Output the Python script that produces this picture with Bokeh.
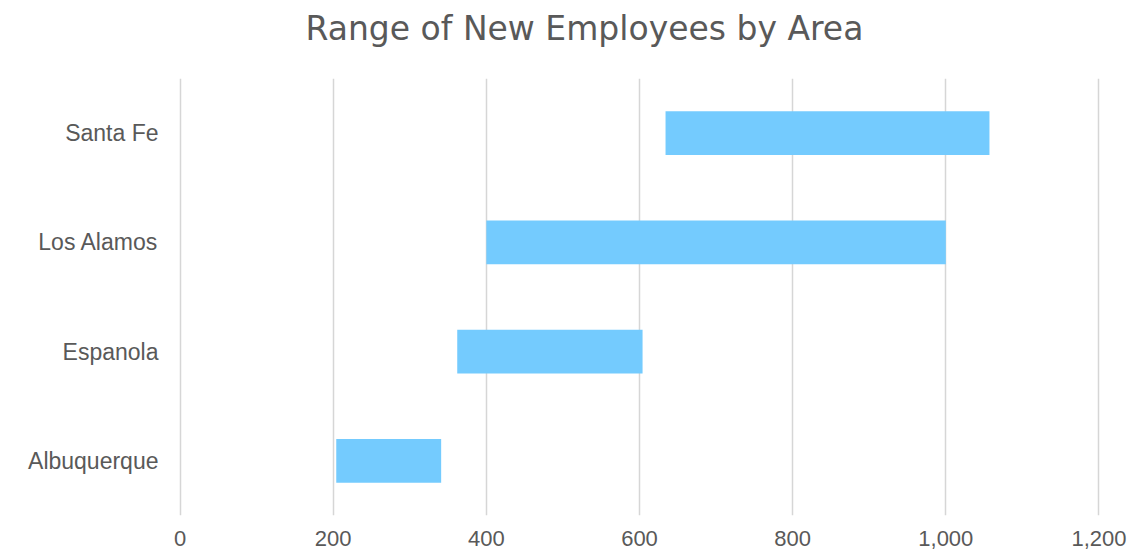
from bokeh.plotting import figure
from bokeh.models import FactorRange, Range1d, FixedTicker, NumeralTickFormatter, ColumnDataSource, Title
from bokeh.embed import file_html
from bokeh.resources import INLINE

categories = ["Albuquerque", "Espanola", "Los Alamos", "Santa Fe"]
low_values = [204, 362, 400, 634]
high_values = [341, 604, 1000, 1057]
x_ticks = [0, 200, 400, 600, 800, 1000, 1200]
title_text = "Range of New Employees by Area"

src = ColumnDataSource(dict(cat=categories, low=low_values, high=high_values))

W, H = 1148, 555
p = figure(width=W, height=H, output_backend="svg", toolbar_location=None, title=None,
           y_range=FactorRange(factors=categories, range_padding=0),
           x_range=Range1d(-2, 1202),
           min_border_left=178, min_border_right=48,
           min_border_top=78, min_border_bottom=40)
p.background_fill_color = "white"
p.border_fill_color = "white"
p.outline_line_color = None

spacer = Title(text=" ", text_font_size="10px", standoff=10, text_color="white")
main_title = Title(text=title_text, align="left", offset=127, vertical_align="top",
                   standoff=12, text_font="DejaVu Sans", text_font_size="33px",
                   text_font_style="normal", text_color="#595959")
p.add_layout(spacer, "above")
p.add_layout(main_title, "above")

p.hbar(y="cat", left="low", right="high", height=0.4, source=src,
       fill_color="#74CBFE", line_color=None)

p.xaxis.ticker = FixedTicker(ticks=x_ticks)
p.xaxis.formatter = NumeralTickFormatter(format="0,0")
for ax in (p.xaxis, p.yaxis):
    ax.axis_line_color = None
    ax.major_tick_line_color = None
    ax.minor_tick_line_color = None
    ax.major_tick_out = 0
    ax.major_tick_in = 0
    ax.major_label_text_color = "#595959"
    ax.major_label_text_font = "Liberation Sans"
p.xaxis.major_label_text_font_size = "22px"
p.xaxis.major_label_standoff = 15
p.yaxis.major_label_text_font_size = "23px"
p.yaxis.major_label_standoff = 20

p.xgrid.ticker = FixedTicker(ticks=x_ticks)
p.xgrid.grid_line_color = "#D6D6D6"
p.xgrid.grid_line_width = 1.5
p.ygrid.grid_line_color = None

open("out.html", "w").write(file_html(p, INLINE))
